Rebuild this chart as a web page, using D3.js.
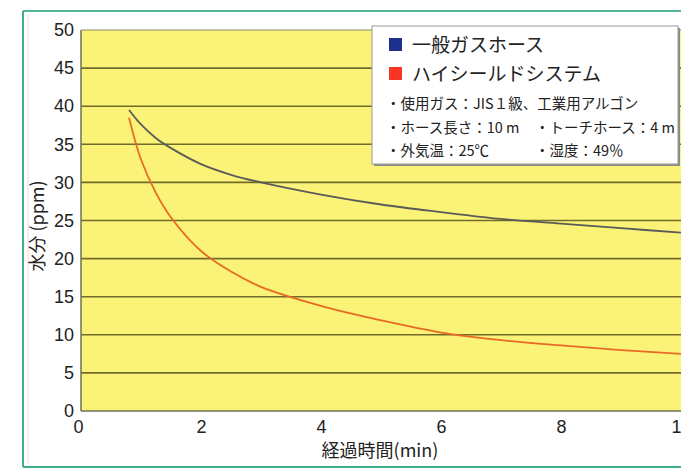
<!DOCTYPE html>
<html>
<head>
<meta charset="utf-8">
<script src="https://cdn.jsdelivr.net/npm/d3@7"></script>
<style>
  html, body { margin: 0; padding: 0; background: #ffffff; }
  svg { display: block; }
</style>
</head>
<body>
<svg id="chart" width="681" height="470"></svg>
<script>
// ---- data ----
const timeMin = [0.8, 1, 1.25, 1.5, 2, 2.5, 3, 4, 5, 6, 7, 8, 9, 10];
const generalHose = [39.5, 37.6, 35.8, 34.5, 32.4, 31.0, 30.0, 28.4, 27.1, 26.1, 25.2, 24.6, 24.0, 23.4];
const hiSealSystem = [38.5, 33.0, 28.6, 25.4, 21.0, 18.3, 16.3, 13.8, 11.9, 10.3, 9.3, 8.6, 8.0, 7.5];
const seriesNames = ["一般ガスホース", "ハイシールドシステム"];
const xTicks = [0, 2, 4, 6, 8, 10];
const yTicks = [0, 5, 10, 15, 20, 25, 30, 35, 40, 45, 50];
const notes = [
  ["・使用ガス：JIS１級、工業用アルゴン", null],
  ["・ホース長さ：10 m", "・トーチホース：4 m"],
  ["・外気温：25℃", "・湿度：49％"]
];
const xTitle = "経過時間(min)";
const yTitle = "水分 (ppm)";

// ---- layout ----
const svg = d3.select("#chart");
const L = 81, R = 681, T = 30, B = 411;
const x = d3.scaleLinear().domain([0, 10]).range([L, R]);
const y = d3.scaleLinear().domain([0, 50]).range([B, T]);

const numFont = "'Liberation Sans', Arial, sans-serif";
const jpFont = "'Noto Sans CJK JP', sans-serif";

// outer frame
svg.append("line").attr("x1", 23).attr("x2", 681).attr("y1", 11).attr("y2", 11)
  .attr("stroke", "#55b79a").attr("stroke-width", 2);
svg.append("line").attr("x1", 23).attr("x2", 23).attr("y1", 11).attr("y2", 467)
  .attr("stroke", "#3fae8a").attr("stroke-width", 2);
svg.append("line").attr("x1", 23).attr("x2", 681).attr("y1", 467).attr("y2", 467)
  .attr("stroke", "#3fae8a").attr("stroke-width", 2);
svg.append("line").attr("x1", 28).attr("x2", 28).attr("y1", 14).attr("y2", 464)
  .attr("stroke", "#f4d4d8").attr("stroke-width", 1);

// plot background
svg.append("rect").attr("x", L).attr("y", T).attr("width", R - L).attr("height", B - T)
  .attr("fill", "#fbf377");

// grid lines
svg.append("g").selectAll("line").data(yTicks.filter(d => d > 0)).join("line")
  .attr("x1", L).attr("x2", R)
  .attr("y1", d => y(d)).attr("y2", d => y(d))
  .attr("stroke", d => d === 50 ? "#8a8a6a" : "#6f6b2c")
  .attr("stroke-width", d => d === 50 ? 1 : 1.6);

// axes lines
svg.append("line").attr("x1", L).attr("x2", L).attr("y1", T).attr("y2", B)
  .attr("stroke", "#6f6f55").attr("stroke-width", 1.5);
svg.append("line").attr("x1", L).attr("x2", R).attr("y1", B).attr("y2", B)
  .attr("stroke", "#6f6f55").attr("stroke-width", 1.5);

// y axis
const yAxis = d3.axisLeft(y).tickValues(yTicks).tickSize(0).tickPadding(7);
const gy = svg.append("g").attr("transform", `translate(${L},0)`).call(yAxis);
gy.select(".domain").remove();
gy.selectAll("text").attr("font-family", numFont).attr("font-size", 18).attr("fill", "#222");

// x axis
const xAxis = d3.axisBottom(x).tickValues(xTicks).tickSize(0).tickPadding(9);
const gx = svg.append("g").attr("transform", `translate(0,${B})`).call(xAxis);
gx.select(".domain").remove();
gx.selectAll("text").attr("font-family", numFont).attr("font-size", 18).attr("fill", "#222");
gx.selectAll(".tick").filter(d => d === 0).select("text").attr("dx", -3);

// axis titles
svg.append("text").attr("x", 380).attr("y", 457).attr("text-anchor", "middle")
  .attr("font-family", jpFont).attr("font-size", 18).attr("fill", "#222").text(xTitle);
svg.append("text").attr("transform", "translate(44,226) rotate(-90)").attr("text-anchor", "middle")
  .attr("font-family", jpFont).attr("font-size", 18).attr("fill", "#222").text(yTitle);

// curves
const line = d3.line().x(d => x(d[0])).y(d => y(d[1])).curve(d3.curveCatmullRom.alpha(0.5));
const seriesData = [
  { vals: generalHose, color: "#5a5a5a" },
  { vals: hiSealSystem, color: "#e86a26" }
];
svg.append("g").selectAll("path").data(seriesData).join("path")
  .attr("d", s => line(timeMin.map((t, i) => [t, s.vals[i]])))
  .attr("fill", "none").attr("stroke", s => s.color).attr("stroke-width", 1.8);

// legend
const lg = svg.append("g");
const lx = 372, ly = 26, lw = 306, lh = 138;
lg.append("rect").attr("x", lx + 2).attr("y", ly + 2).attr("width", lw).attr("height", lh)
  .attr("fill", "#8a8a8a");
lg.append("rect").attr("x", lx).attr("y", ly).attr("width", lw).attr("height", lh)
  .attr("fill", "#ffffff").attr("stroke", "#9a9a9a").attr("stroke-width", 1);

const legendColors = ["#1f2f8c", "#fb3526"];
lg.selectAll("rect.sw").data(seriesNames).join("rect").attr("class", "sw")
  .attr("x", 389).attr("y", (d, i) => 38 + i * 29).attr("width", 13).attr("height", 13)
  .attr("fill", (d, i) => legendColors[i]);
lg.selectAll("text.nm").data(seriesNames).join("text").attr("class", "nm")
  .attr("x", 412).attr("y", (d, i) => 52 + i * 29)
  .attr("font-family", jpFont).attr("font-size", 19).attr("fill", "#222")
  .text(d => d);

notes.forEach((row, i) => {
  lg.append("text").attr("x", 386).attr("y", 109 + i * 23.5)
    .attr("font-family", jpFont).attr("font-size", 14.5).attr("fill", "#222").text(row[0]);
  if (row[1]) {
    lg.append("text").attr("x", 535).attr("y", 109 + i * 23.5)
      .attr("font-family", jpFont).attr("font-size", 14.5).attr("fill", "#222").text(row[1]);
  }
});
</script>
</body>
</html>
